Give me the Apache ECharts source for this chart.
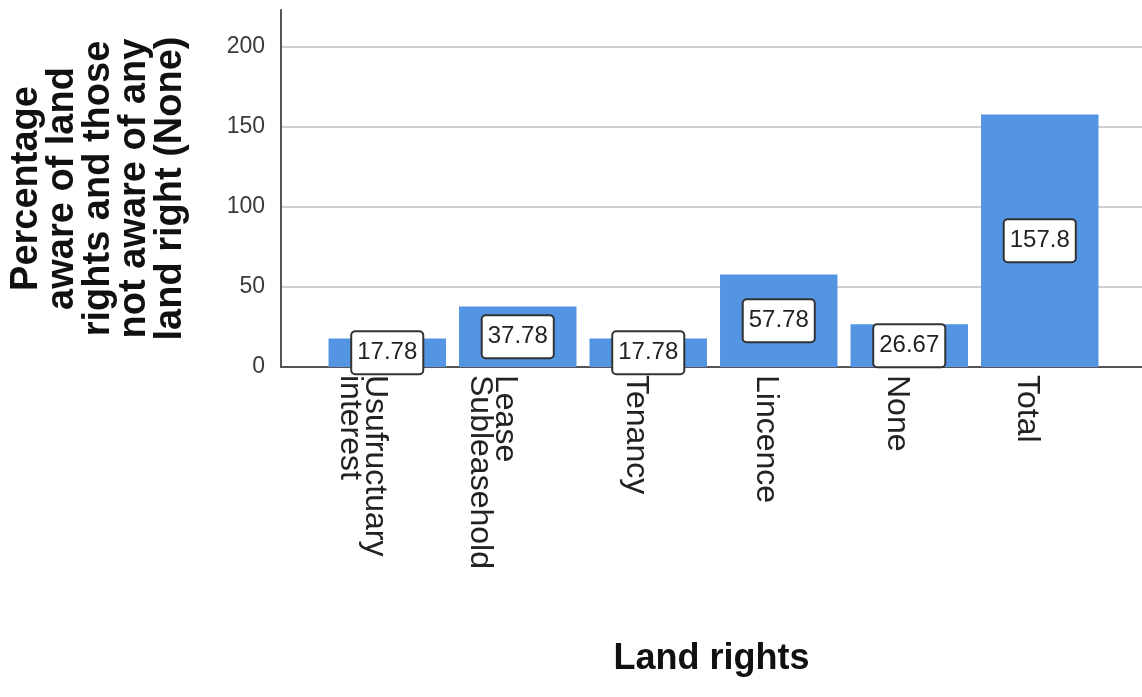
<!DOCTYPE html>
<html>
<head>
<meta charset="utf-8">
<script src="https://cdn.jsdelivr.net/npm/echarts@6/dist/echarts.min.js"></script>
<style>
html,body{margin:0;padding:0;background:#fff;}
#chart{width:1142px;height:697px;}
</style>
</head>
<body>
<div id="chart"></div>
<script>
const categories = ['Usufructuary\ninterest', 'Lease\nSubleasehold', 'Tenancy', 'Lincence', 'None', 'Total'];
const values = [17.78, 37.78, 17.78, 57.78, 26.67, 157.8];
const yTitle = 'Percentage\naware of land\nrights and those\nnot aware of any\nland right (None)';
const xTitle = 'Land rights';
const yMin = 0, yMax = 223, yInterval = 50;

const FONT = 'Liberation Sans, Arial, sans-serif';
const chart = echarts.init(document.getElementById('chart'), null, {renderer: 'canvas'});
chart.setOption({
  animation: false,
  backgroundColor: '#fff',
  grid: [
    {left: 280, right: 0, top: 10, bottom: 330},
    {left: 322, right: 37, top: 10, bottom: 330}
  ],
  xAxis: [
    {
      gridIndex: 0, type: 'value', min: 0, max: 1,
      axisLine: {show: true, lineStyle: {color: '#555', width: 2}},
      axisTick: {show: false}, axisLabel: {show: false}, splitLine: {show: false},
      name: xTitle, nameLocation: 'middle', nameGap: 274,
      nameTextStyle: {fontFamily: FONT, fontSize: 36, fontWeight: 'bold', color: '#111'}
    },
    {
      gridIndex: 1, type: 'category', data: categories,
      axisLine: {show: false}, axisTick: {show: false}, splitLine: {show: false},
      axisLabel: {
        rotate: -90, interval: 0, margin: 8, verticalAlign: 'top',
        fontFamily: FONT, fontSize: 32, lineHeight: 25, color: '#222'
      }
    }
  ],
  yAxis: [
    {
      gridIndex: 0, type: 'value', min: yMin, max: yMax, interval: yInterval,
      axisLine: {show: true, lineStyle: {color: '#555', width: 2}},
      axisTick: {show: false},
      axisLabel: {fontFamily: FONT, fontSize: 23, color: '#3a3a3a', margin: 16, showMaxLabel: false},
      splitLine: {show: true, showMaxLine: false, lineStyle: {color: '#cfcfcf', width: 2}},
      name: yTitle, nameLocation: 'middle', nameRotate: 90, nameGap: 92,
      nameTextStyle: {fontFamily: FONT, fontSize: 38, fontWeight: 'bold', color: '#111', lineHeight: 36, align: 'center'}
    },
    {
      gridIndex: 1, type: 'value', min: yMin, max: yMax, interval: yInterval, show: false,
      splitLine: {show: false}
    }
  ],
  series: [{
    type: 'bar', xAxisIndex: 1, yAxisIndex: 1,
    data: values,
    barWidth: '90%',
    itemStyle: {color: '#5394e3'},
    label: {
      show: true, position: 'inside',
      formatter: p => String(p.value),
      fontFamily: FONT, fontSize: 24, color: '#222',
      backgroundColor: '#fff', borderColor: '#333', borderWidth: 2, borderRadius: 3,
      padding: [10, 5, 7, 5]
    }
  }]
});
</script>
</body>
</html>
